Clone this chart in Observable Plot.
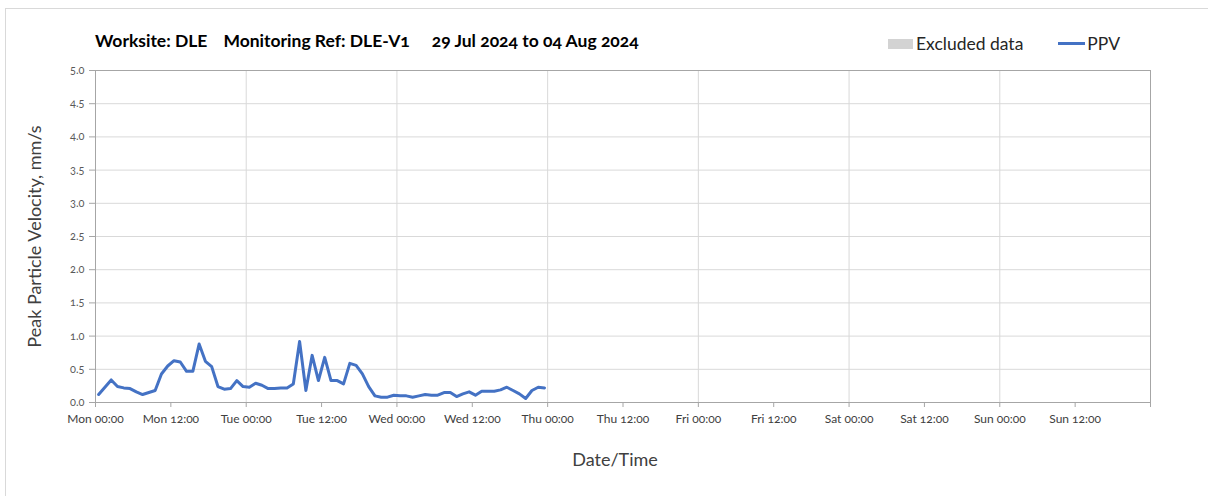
<!DOCTYPE html>
<html><head><meta charset="utf-8">
<script src="https://cdn.jsdelivr.net/npm/d3@7"></script>
<script src="https://cdn.jsdelivr.net/npm/@observablehq/plot@0.6"></script>
<style>
body{margin:0;background:#fff;font-family:Lato, sans-serif;}
#wrap{position:relative;width:1208px;height:496px;overflow:hidden;background:#fff;}
#border{position:absolute;left:5px;top:8px;width:1300px;height:600px;border-left:1px solid #d9d9d9;border-top:1px solid #d9d9d9;pointer-events:none;}
#header{position:relative;height:60px;}
#title{position:absolute;left:95px;top:30px;font-weight:bold;font-size:17.5px;color:#000;white-space:pre;font-variant-numeric:oldstyle-nums;font-feature-settings:"onum";}
#title span{display:inline-block;}
#legend{position:absolute;left:888px;top:33px;font-size:17.5px;color:#262626;display:flex;align-items:center;}
.sw-rect{width:25px;height:10px;background:#d3d3d3;margin-right:3px;}
.sw-line{width:27px;height:3px;background:#4472c4;margin-left:35px;margin-right:2px;}
svg text{font-variant-numeric:oldstyle-nums !important;font-feature-settings:"onum" !important;}
</style>
</head><body>
<div id="wrap">
  <div id="border"></div>
  <div id="header">
    <div id="title"><span>Worksite: DLE</span><span style="margin-left:16px">Monitoring Ref: DLE-V1</span><span style="margin-left:22px">29 Jul 2024 to 04 Aug 2024</span></div>
    <div id="legend"><div class="sw-rect"></div><span>Excluded data</span><div class="sw-line"></div><span>PPV</span></div>
  </div>
  <div id="chart"></div>
</div>
<script>
// ---- data ----
const seriesName = "PPV";
const startTime = "2024-07-29T00:30:00Z"; // hourly readings
const ppv = [
  0.12, 0.23, 0.34, 0.24, 0.22, 0.21, 0.16, 0.12, 0.15, 0.18,
  0.43, 0.55, 0.63, 0.61, 0.47, 0.47, 0.88, 0.62, 0.54, 0.24,
  0.20, 0.21, 0.33, 0.24, 0.23, 0.29, 0.26, 0.21, 0.21, 0.22,
  0.22, 0.28, 0.92, 0.18, 0.71, 0.33, 0.68, 0.33, 0.33, 0.28,
  0.59, 0.56, 0.43, 0.24, 0.10, 0.08, 0.08, 0.11, 0.10, 0.10,
  0.08, 0.10, 0.12, 0.11, 0.11, 0.15, 0.15, 0.09, 0.13, 0.16,
  0.11, 0.17, 0.17, 0.17, 0.19, 0.23, 0.18, 0.13, 0.06, 0.18,
  0.23, 0.22
];
const xDomain = ["2024-07-29T00:00:00Z", "2024-08-05T00:00:00Z"];
const xTicks = [
  "2024-07-29T00:00:00Z","2024-07-29T12:00:00Z","2024-07-30T00:00:00Z","2024-07-30T12:00:00Z",
  "2024-07-31T00:00:00Z","2024-07-31T12:00:00Z","2024-08-01T00:00:00Z","2024-08-01T12:00:00Z",
  "2024-08-02T00:00:00Z","2024-08-02T12:00:00Z","2024-08-03T00:00:00Z","2024-08-03T12:00:00Z",
  "2024-08-04T00:00:00Z","2024-08-04T12:00:00Z","2024-08-05T00:00:00Z"
];
const xTickLabels = [
  "Mon 00:00","Mon 12:00","Tue 00:00","Tue 12:00","Wed 00:00","Wed 12:00","Thu 00:00","Thu 12:00",
  "Fri 00:00","Fri 12:00","Sat 00:00","Sat 12:00","Sun 00:00","Sun 12:00",""
];
const dayGrid = ["2024-07-30T00:00:00Z","2024-07-31T00:00:00Z","2024-08-01T00:00:00Z","2024-08-02T00:00:00Z","2024-08-03T00:00:00Z","2024-08-04T00:00:00Z"];
const yTicks = [0, 0.5, 1, 1.5, 2, 2.5, 3, 3.5, 4, 4.5, 5];
const yLabel = "Peak Particle Velocity, mm/s";
const xLabel = "Date/Time";

// ---- build ----
const t0 = Date.parse(startTime);
const data = ppv.map((v, i) => ({t: new Date(t0 + i * 3600e3), v}));
const tickDates = xTicks.map(s => new Date(s));
const labelMap = new Map(tickDates.map((d, i) => [+d, xTickLabels[i]]));

const chart = Plot.plot({
  width: 1208, height: 436,
  marginLeft: 95, marginRight: 58, marginTop: 10, marginBottom: 94,
  x: {type: "utc", domain: xDomain.map(s => new Date(s))},
  y: {domain: [0, 5]},
  style: {fontFamily: "Lato, sans-serif", color: "#404040", background: "transparent"},
  marks: [
    Plot.gridY(yTicks.slice(1, -1), {stroke: "#d9d9d9", strokeOpacity: 1}),
    Plot.gridX(dayGrid.map(s => new Date(s)), {stroke: "#d9d9d9", strokeOpacity: 1}),
    Plot.frame({stroke: "#a6a6a6"}),
    Plot.axisY(yTicks, {tickSize: 6, tickPadding: 5, tickFormat: d => d.toFixed(1), fontSize: 11, fill: "#595959", stroke: "#a6a6a6", label: null}),
    Plot.axisX(tickDates, {tickSize: 5, tickPadding: 7, tickFormat: d => labelMap.get(+d), fontSize: 12, fill: "#404040", stroke: "#a6a6a6", label: null}),
    Plot.lineY(data, {x: "t", y: "v", stroke: "#4472c4", strokeWidth: 3}),
    Plot.text([yLabel], {text: d => d, frameAnchor: "left", textAnchor: "middle", rotate: -90, dx: -60, fontSize: 18, fill: "#404040"}),
    Plot.text([xLabel], {text: d => d, frameAnchor: "bottom", dx: -8, dy: 63, fontSize: 18, fill: "#404040"})
  ]
});
document.getElementById("chart").appendChild(chart);
</script>
</body></html>
